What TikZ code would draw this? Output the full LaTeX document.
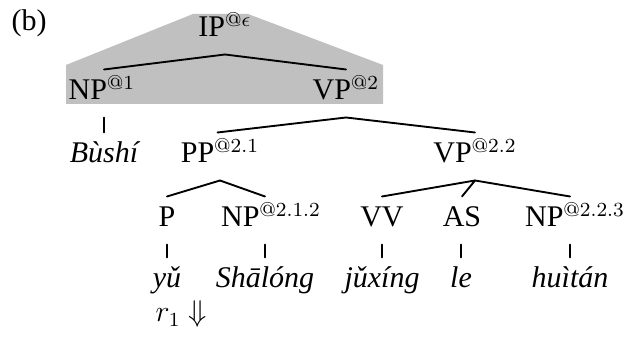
\documentclass[tikz,border=0pt]{standalone}
\usepackage[no-math]{fontspec}
\setmainfont{Liberation Serif}
\usepackage{amsmath,amssymb}
\usetikzlibrary{positioning,calc}
\definecolor{rulegray}{HTML}{C0C0C0}

\begin{document}
\begin{tikzpicture}[x=0.4pt, y=-0.4pt,
  cat/.style={inner xsep=0pt, inner ysep=4.8pt, text height=7.2pt,
              text depth=2pt, anchor=base, font=\fontsize{12}{14}\selectfont},
  word/.style={cat, font=\fontsize{12}{14}\selectfont\itshape},
  branch/.style={line width=0.75pt, line cap=round},
]
  \useasboundingbox (0,0) rectangle (641,337);

  % shaded region of the rule
  \fill[rulegray] (66,65) -- (193,14) -- (248,14) -- (383,65) -- (383,104) -- (66,104) -- cycle;

  \node[font=\fontsize{12}{14}\selectfont] (tag) at (29,23) {(b)};

  % categories
  \node[cat] (ip) at (225,37) {IP$^{@\epsilon}$};
  \node[cat] (np1) at (102,100) {NP$^{@1}$};
  \node[cat] (vp2) at (346,100) {VP$^{@2}$};
  \node[cat] (pp) at (220,163) {PP$^{@2.1}$};
  \node[cat] (vp22) at (475,163) {VP$^{@2.2}$};
  \node[cat] (p) at (167,227) {P};
  \node[cat] (np212) at (271,227) {NP$^{@2.1.2}$};
  \node[cat] (vv) at (382,227) {VV};
  \node[cat] (as) at (462,227) {AS};
  \node[cat] (np223) at (575,227) {NP$^{@2.2.3}$};

  % words
  \node[word] (bushi) at (104,163) {Bùshí};
  \node[word] (yu) at (167,288) {yǔ};
  \node[word] (shalong) at (265,288) {Shālóng};
  \node[word] (juxing) at (382,288) {jǔxíng};
  \node[word] (le) at (461,288) {le};
  \node[word] (huitan) at (570,288) {huìtán};

  \node[font=\fontsize{12}{14}\selectfont, anchor=base] (rule) at (181,322) {$r_1$ $\Downarrow$};

  % branches
  \draw[branch] (ip.south) -- (bushi.north |- np1.north);
  \draw[branch] (ip.south) -- (vp2.north);
  \draw[branch] (vp2.south) -- ([xshift=-1pt]pp.north);
  \draw[branch] (vp2.south) -- (vp22.north);
  \draw[branch] (pp.south) -- (p.north);
  \draw[branch] (pp.south) -- (shalong.north |- np212.north);
  \draw[branch] (vp22.south) -- (vv.north);
  \draw[branch] (vp22.south) -- (as.north);
  \draw[branch] (vp22.south) -- (huitan.north |- np223.north);

  % lexical ticks
  \draw[branch] (bushi.north |- np1.south) -- (bushi.north);
  \draw[branch] (p.south) -- (yu.north);
  \draw[branch] (shalong.north |- np212.south) -- (shalong.north);
  \draw[branch] (vv.south) -- (juxing.north);
  \draw[branch] (le.north |- as.south) -- (le.north);
  \draw[branch] (huitan.north |- np223.south) -- (huitan.north);
\end{tikzpicture}
\end{document}
